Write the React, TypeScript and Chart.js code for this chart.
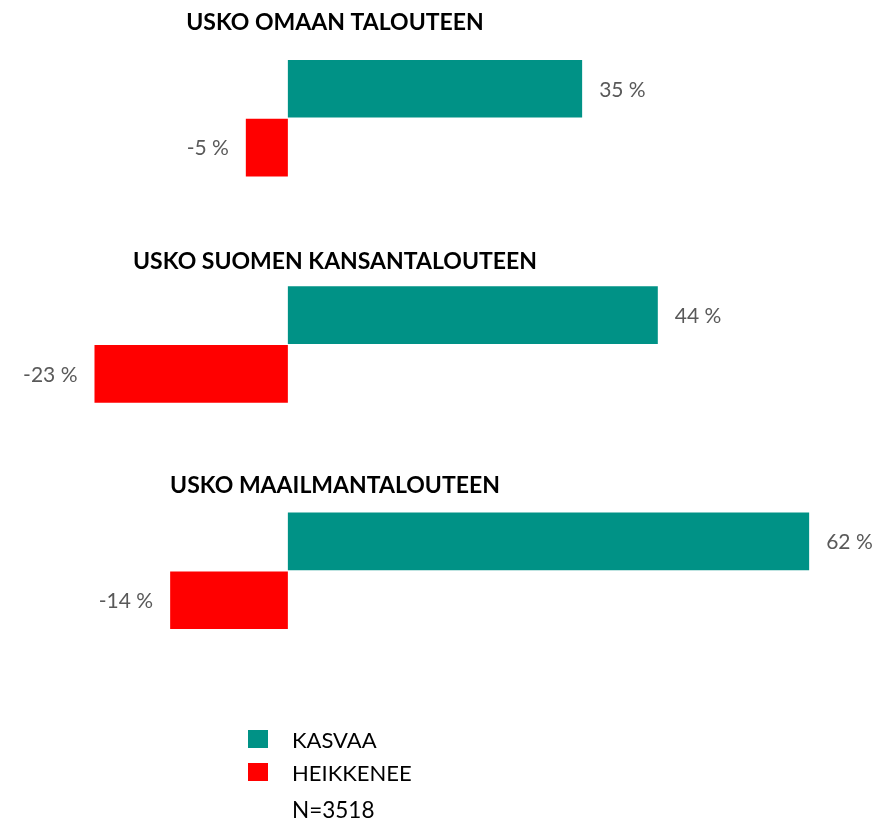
import React, { useEffect, useRef } from "react";
import { Chart, registerables } from "chart.js";

Chart.register(...registerables);

const categories = ["USKO OMAAN TALOUTEEN", "USKO SUOMEN KANSANTALOUTEEN", "USKO MAAILMANTALOUTEEN"];
const kasvaa = [35, 44, 62];
const heikkenee = [-5, -23, -14];
const seriesNames = ["KASVAA", "HEIKKENEE"];
const sampleNote = "N=3518";

const GREEN = "#009286";
const RED = "#ff0000";
const FONT = "Lato, 'Open Sans', sans-serif";
const titleOffsets = [-96, -83, -85];

const overlayPlugin = {
  id: "overlay",
  afterDatasetsDraw(chart: any) {
    const ctx = chart.ctx;
    const yScale = chart.scales.y;
    ctx.save();
    // group titles
    ctx.fillStyle = "#000";
    ctx.font = `bold 23px ${FONT}`;
    ctx.textAlign = "center";
    ctx.textBaseline = "middle";
    categories.forEach((c, i) => {
      const yc = yScale.getPixelForValue(i);
      ctx.fillText(c, 335, yc + titleOffsets[i]);
    });
    // value labels
    ctx.font = `21px ${FONT}`;
    ctx.fillStyle = "#595959";
    chart.data.datasets.forEach((ds: any, di: number) => {
      const meta = chart.getDatasetMeta(di);
      meta.data.forEach((bar: any, i: number) => {
        const v = ds.data[i];
        const txt = `${v} %`;
        if (v >= 0) {
          ctx.textAlign = "left";
          ctx.fillText(txt, bar.x + 17, bar.y + 1);
        } else {
          ctx.textAlign = "right";
          ctx.fillText(txt, bar.x - 17, bar.y + 1);
        }
      });
    });
    // legend
    const colors = [GREEN, RED];
    ctx.textAlign = "left";
    ctx.font = `22px ${FONT}`;
    seriesNames.forEach((n, i) => {
      const y = 730 + i * 33;
      ctx.fillStyle = colors[i];
      ctx.fillRect(248, y, 20, 18);
      ctx.fillStyle = "#000";
      ctx.fillText(n, 292, y + 11);
    });
    ctx.font = `22.5px ${FONT}`;
    ctx.fillText(sampleNote, 292, 811);
    ctx.restore();
  },
};

export default function App() {
  const ref = useRef<HTMLCanvasElement>(null);
  useEffect(() => {
    document.body.style.margin = "0";
    const chart = new Chart(ref.current!, {
      type: "bar",
      data: {
        labels: categories,
        datasets: [
          { label: seriesNames[0], data: kasvaa, backgroundColor: GREEN, borderWidth: 0 },
          { label: seriesNames[1], data: heikkenee, backgroundColor: RED, borderWidth: 0 },
        ],
      },
      options: {
        indexAxis: "y",
        animation: false,
        responsive: false,
        maintainAspectRatio: false,
        layout: { padding: { left: 2, right: 8, top: 5, bottom: 137 } },
        datasets: { bar: { categoryPercentage: 0.52, barPercentage: 0.98 } },
        scales: {
          x: { display: false, min: -34, max: 69 },
          y: { display: false },
        },
        plugins: { legend: { display: false }, tooltip: { enabled: false } },
      },
      plugins: [overlayPlugin],
    });
    return () => chart.destroy();
  }, []);
  return <canvas ref={ref} width={876} height={821} style={{ display: "block" }} />;
}
